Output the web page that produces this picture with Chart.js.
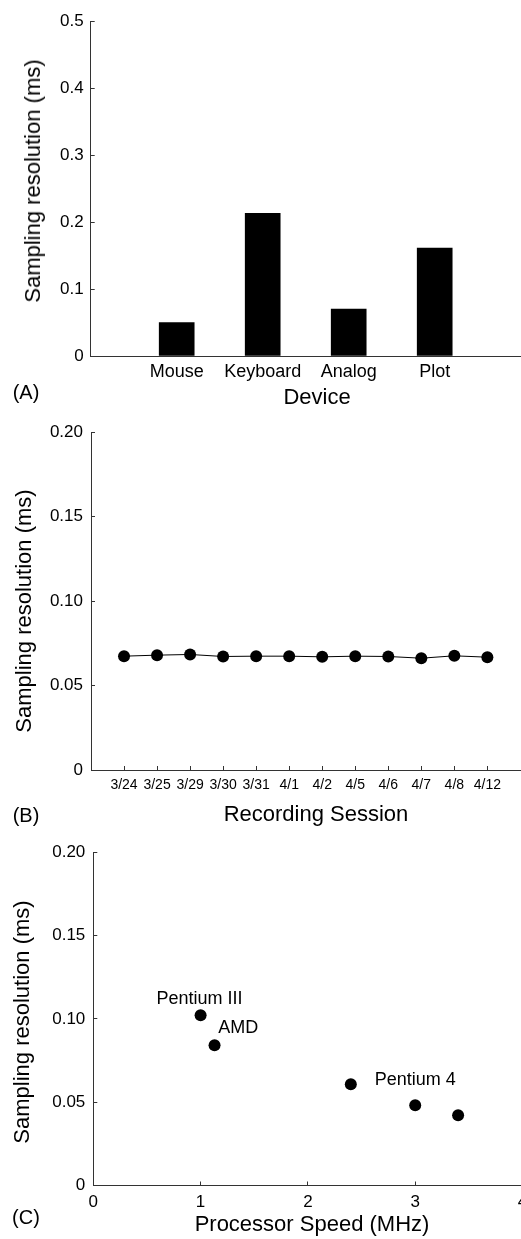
<!DOCTYPE html>
<html>
<head>
<meta charset="utf-8">
<script src="https://cdn.jsdelivr.net/npm/chart.js@4.4.1/dist/chart.umd.min.js"></script>
<style>
  html, body { margin: 0; padding: 0; background: #fff; }
  body {
    position: relative;
    width: 521px;
    height: 1239px;
    overflow: hidden;
    font-family: Arial, "Liberation Sans", sans-serif;
    color: #000;
  }
  canvas { position: absolute; left: 0; }
  .lbl {
    position: absolute;
    white-space: nowrap;
    line-height: 1;
    transform: translate(-50%, -50%);
  }
  .ytitle { transform: translate(-50%, -50%) rotate(-90deg); }
  .title { font-size: 22px; }
  .panel { font-size: 20px; }
</style>
</head>
<body>
<canvas id="chartA" width="560" height="410" style="top:0"></canvas>
<canvas id="chartB" width="560" height="420" style="top:410px"></canvas>
<canvas id="chartC" width="560" height="409" style="top:830px"></canvas>

<div class="lbl title ytitle" style="left:33px;top:181px">Sampling resolution (ms)</div>
<div class="lbl title" style="left:317px;top:397px">Device</div>
<div class="lbl panel" style="left:26px;top:392px">(A)</div>

<div class="lbl title ytitle" style="left:24px;top:611px">Sampling resolution (ms)</div>
<div class="lbl title" style="left:316px;top:814px">Recording Session</div>
<div class="lbl panel" style="left:26px;top:815px">(B)</div>

<div class="lbl title ytitle" style="left:21.5px;top:1022px">Sampling resolution (ms)</div>
<div class="lbl title" style="left:312px;top:1224px">Processor Speed (MHz)</div>
<div class="lbl panel" style="left:26px;top:1217px">(C)</div>

<script>
// (A) sampling resolution per input device
const devices = ['Mouse', 'Keyboard', 'Analog', 'Plot'];
const deviceResolution = [0.050, 0.213, 0.070, 0.161];

// (B) resolution over recording sessions
const sessions = ['3/24', '3/25', '3/29', '3/30', '3/31', '4/1', '4/2', '4/5', '4/6', '4/7', '4/8', '4/12'];
const sessionResolution = [0.0674, 0.0680, 0.0684, 0.0672, 0.0674, 0.0674, 0.0670, 0.0674, 0.0672, 0.0662, 0.0676, 0.0668];

// (C) resolution against processor speed
const cpuSpeed = [1.0, 1.13, 2.4, 3.0, 3.4];
const cpuResolution = [0.1022, 0.0841, 0.0608, 0.0482, 0.0421];
const cpuNames = ['Pentium III', 'AMD', 'Pentium 4'];
const cpuNameX = [0.99, 1.35, 3.0];
const cpuNameY = [0.1118, 0.0946, 0.0634];

const FONT = 'Arial, "Liberation Sans", sans-serif';
const AXIS = '#333';
const CANVAS_W = 560;

Chart.defaults.font.family = FONT;
Chart.defaults.color = '#000';
Chart.defaults.animation = false;
Chart.defaults.plugins.legend.display = false;
Chart.defaults.plugins.tooltip.enabled = false;

// pin the plot box so all three panels line up like the printed figure
function box(left, top, right, bottom, canvasH) {
    return {
        padding: { left: 0, top: top, right: CANVAS_W - right, bottom: 0 },
        fitX: (s) => { s.height = canvasH - bottom; },
        fitY: (s) => { s.width = left; },
    };
}

// inward tick marks, matlab style
const inwardGrid = { drawOnChartArea: false, drawTicks: true, tickLength: -4, color: AXIS };
const border = { display: true, color: AXIS, width: 1 };
const twoDecimals = (v) => (v === 0 ? '0' : v.toFixed(2));

// ---- (A) bar chart
const boxA = box(90.7, 17.3, 520.7, 356, 410);
new Chart(document.getElementById('chartA'), {
    type: 'bar',
    data: {
        datasets: [{
            data: devices.map((d, i) => ({ x: i + 1, y: deviceResolution[i] })),
            backgroundColor: '#000',
            barThickness: 35,
        }],
    },
    options: {
        responsive: false,
        devicePixelRatio: 1,
        layout: { padding: boxA.padding },
        scales: {
            x: {
                type: 'linear',
                min: 0,
                max: devices.length + 1,
                offset: false,
                grid: { display: false, drawTicks: false, offset: false },
                border: border,
                ticks: {
                    stepSize: 1,
                    padding: 5,
                    maxRotation: 0,
                    autoSkip: false,
                    font: { size: 18 },
                    callback: (v) => devices[v - 1] || '',
                },
                afterFit: boxA.fitX,
            },
            y: {
                min: 0,
                max: 0.5,
                grid: inwardGrid,
                border: border,
                ticks: { stepSize: 0.1, padding: 11, font: { size: 17 } },
                afterFit: boxA.fitY,
            },
        },
    },
});

// ---- (B) line over sessions
const boxB = box(91, 21.7, 520.4, 360, 420);
new Chart(document.getElementById('chartB'), {
    type: 'line',
    data: {
        datasets: [{
            data: sessions.map((s, i) => ({ x: i + 1, y: sessionResolution[i] })),
            borderColor: '#000',
            borderWidth: 1,
            pointRadius: 6,
            pointBackgroundColor: '#000',
            pointBorderWidth: 0,
            tension: 0,
        }],
    },
    options: {
        responsive: false,
        devicePixelRatio: 1,
        layout: { padding: boxB.padding },
        scales: {
            x: {
                type: 'linear',
                min: 0,
                max: sessions.length + 1,
                grid: inwardGrid,
                border: border,
                ticks: {
                    stepSize: 1,
                    padding: 11,
                    maxRotation: 0,
                    autoSkip: false,
                    font: { size: 14 },
                    callback: (v) => sessions[v - 1] || '',
                },
                afterBuildTicks: (s) => {
                    s.ticks = s.ticks.filter((t) => t.value >= 1 && t.value <= sessions.length);
                },
                afterFit: boxB.fitX,
            },
            y: {
                min: 0,
                max: 0.2,
                grid: inwardGrid,
                border: border,
                ticks: { stepSize: 0.05, padding: 12, font: { size: 17 }, callback: twoDecimals },
                afterFit: boxB.fitY,
            },
        },
    },
});

// processor names written next to their points
const cpuNamePlugin = {
    id: 'cpuNames',
    afterDatasetsDraw(chart) {
        const { ctx, scales: { x, y } } = chart;
        ctx.save();
        ctx.font = '18px ' + FONT;
        ctx.fillStyle = '#000';
        ctx.textAlign = 'center';
        ctx.textBaseline = 'middle';
        cpuNames.forEach((name, i) => {
            ctx.fillText(name, x.getPixelForValue(cpuNameX[i]), y.getPixelForValue(cpuNameY[i]));
        });
        ctx.restore();
    },
};

// ---- (C) scatter against cpu speed
const boxC = box(93.3, 17.3, 522.5, 355.5, 409);
new Chart(document.getElementById('chartC'), {
    type: 'scatter',
    data: {
        datasets: [{
            data: cpuSpeed.map((s, i) => ({ x: s, y: cpuResolution[i] })),
            pointRadius: 6,
            backgroundColor: '#000',
            borderWidth: 0,
        }],
    },
    options: {
        responsive: false,
        devicePixelRatio: 1,
        layout: { padding: boxC.padding },
        scales: {
            x: {
                type: 'linear',
                min: 0,
                max: 4,
                grid: inwardGrid,
                border: border,
                ticks: { stepSize: 1, padding: 11, maxRotation: 0, font: { size: 17 } },
                afterFit: boxC.fitX,
            },
            y: {
                min: 0,
                max: 0.2,
                grid: inwardGrid,
                border: border,
                ticks: { stepSize: 0.05, padding: 12, font: { size: 17 }, callback: twoDecimals },
                afterFit: boxC.fitY,
            },
        },
    },
    plugins: [cpuNamePlugin],
});
</script>
</body>
</html>
